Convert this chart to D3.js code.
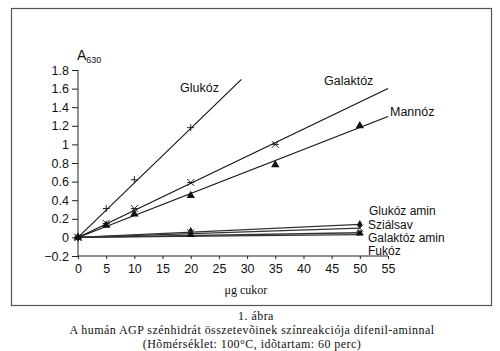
<!DOCTYPE html>
<html>
<head>
<meta charset="utf-8">
<script src="https://cdn.jsdelivr.net/npm/d3@7"></script>
<style>
  body { margin: 0; background: #fff; }
  svg text { font-family: "Liberation Sans", Arial, sans-serif; fill: #111; }
  .axis text { font-size: 12.5px; }
  .axis path, .axis line { stroke: #222; }
  .serif { font-family: "Liberation Serif", "Times New Roman", serif !important; }
</style>
</head>
<body>
<div id="chart"></div>
<script>

// x values (µg cukor) and measured absorbance per sugar
const xs = [0, 5, 10, 20, 35, 50];

const seriesNames = ["Glukóz", "Galaktóz", "Mannóz", "Glukóz amin", "Sziálsav", "Galaktóz amin", "Fukóz"];

const glukoz = [0, 0.31, 0.62, 1.18, null, null];
const galaktoz = [0, 0.15, 0.31, 0.59, 1.0, null];
const mannoz = [0, 0.13, 0.25, 0.45, 0.78, 1.2];
const glukozAmin = [0, null, null, 0.065, null, 0.14];
const szialsav = [0, null, null, 0.05, null, 0.10];
const galaktozAmin = [0, null, null, 0.03, null, 0.05];
const fukoz = [0, null, null, 0.015, null, 0.03];

// end points of the fitted lines (x, y)
const fitEnds = [[29, 1.70], [55, 1.60], [55, 1.30], [50, 0.14], [50, 0.10], [50, 0.05], [50, 0.03]];

const markers = ["plus", "star", "triangle", "diamond", "cross", "square", "dash"];

const yTicks = [-0.2, 0, 0.2, 0.4, 0.6, 0.8, 1, 1.2, 1.4, 1.6, 1.8];
const xTicks = [0, 5, 10, 15, 20, 25, 30, 35, 40, 45, 50, 55];

const captionLines = [
  "1. ábra",
  "A humán AGP szénhidrát összetevõinek színreakciója difenil-aminnal",
  "(Hõmérséklet: 100°C, idõtartam: 60 perc)"
];

const allValues = [glukoz, galaktoz, mannoz, glukozAmin, szialsav, galaktozAmin, fukoz];

const width = 500, height = 351;

const svg = d3.select("#chart").append("svg")
  .attr("width", width)
  .attr("height", height);

// frame around the chart
svg.append("rect")
  .attr("x", 11.5).attr("y", 8.5)
  .attr("width", 480).attr("height", 297)
  .attr("fill", "none")
  .attr("stroke", "#555")
  .attr("stroke-width", 1.2);

const x = d3.scaleLinear().domain([0, 55]).range([78, 388]);
const y = d3.scaleLinear().domain([-0.2, 1.8]).range([256, 70]);

// y axis
svg.append("g")
  .attr("class", "axis")
  .attr("transform", "translate(" + x(0) + ",0)")
  .call(d3.axisLeft(y).tickValues(yTicks).tickSize(6).tickPadding(3)
    .tickFormat(d => d3.format("")(+d.toFixed(1))))
  .select(".domain").attr("d", "M0," + y(-0.2) + "V" + y(1.8));

// x axis at y = -0.2
svg.append("g")
  .attr("class", "axis")
  .attr("transform", "translate(0," + y(-0.2) + ")")
  .call(d3.axisBottom(x).tickValues(xTicks).tickSize(3).tickPadding(5))
  .select(".domain").attr("d", "M" + x(0) + ",0H" + x(55));

// A630 label
const aLabel = svg.append("text")
  .attr("x", 77).attr("y", 60)
  .style("font-size", "14px");
aLabel.append("tspan").text("A");
aLabel.append("tspan").attr("dy", 3).style("font-size", "9px").text("630");

// x axis title
svg.append("text")
  .attr("class", "serif")
  .attr("x", 246).attr("y", 294)
  .attr("text-anchor", "middle")
  .style("font-size", "12px")
  .text("μg cukor");

// fitted lines
seriesNames.forEach((name, i) => {
  const col = i < 3 ? "#111" : "#333";
  svg.append("line")
    .attr("x1", x(0)).attr("y1", y(0))
    .attr("x2", x(fitEnds[i][0])).attr("y2", y(fitEnds[i][1]))
    .attr("stroke", col)
    .attr("stroke-width", i < 3 ? 1.1 : 1.4);
});

// markers
function drawMarker(g, type, cx, cy) {
  const s = 3.5;
  if (type === "plus") {
    g.append("path").attr("d", `M${cx - s},${cy}H${cx + s}M${cx},${cy - s}V${cy + s}`)
      .attr("stroke", "#222").attr("stroke-width", 1);
  } else if (type === "star") {
    g.append("path").attr("d", `M${cx - s},${cy - s}L${cx + s},${cy + s}M${cx - s},${cy + s}L${cx + s},${cy - s}M${cx - s},${cy}H${cx + s}`)
      .attr("stroke", "#222").attr("stroke-width", 1);
  } else if (type === "cross") {
    g.append("path").attr("d", `M${cx - s},${cy - s}L${cx + s},${cy + s}M${cx - s},${cy + s}L${cx + s},${cy - s}`)
      .attr("stroke", "#333").attr("stroke-width", 1);
  } else if (type === "triangle") {
    g.append("path").attr("d", d3.symbol(d3.symbolTriangle, 30)())
      .attr("transform", `translate(${cx},${cy})`).attr("fill", "#111");
  } else if (type === "diamond") {
    g.append("path").attr("d", d3.symbol(d3.symbolDiamond, 22)())
      .attr("transform", `translate(${cx},${cy})`).attr("fill", "#111");
  } else if (type === "square") {
    g.append("path").attr("d", d3.symbol(d3.symbolSquare, 22)())
      .attr("transform", `translate(${cx},${cy})`).attr("fill", "#111");
  } else {
    g.append("path").attr("d", `M${cx - s},${cy}H${cx + s}`)
      .attr("stroke", "#111").attr("stroke-width", 2);
  }
}

const markG = svg.append("g");
allValues.forEach((vals, i) => {
  vals.forEach((v, j) => {
    if (v === null) return;
    drawMarker(markG, markers[i], x(xs[j]), y(v));
  });
});

// series labels
const labelPos = [[180, 92], [324, 85], [390, 116], [369, 215], [368, 229], [368, 242], [368, 255]];
seriesNames.forEach((name, i) => {
  svg.append("text")
    .attr("x", labelPos[i][0]).attr("y", labelPos[i][1])
    .style("font-size", i < 3 ? "12.5px" : "12px")
    .text(name);
});

// caption
const capY = [320, 334, 348];
captionLines.forEach((t, i) => {
  svg.append("text")
    .attr("class", "serif")
    .attr("x", i === 0 ? 256 : 252)
    .attr("y", capY[i])
    .attr("text-anchor", "middle")
    .style("font-size", "12px")
    .style("letter-spacing", "0.45px")
    .text(t);
});
</script>
</body>
</html>
